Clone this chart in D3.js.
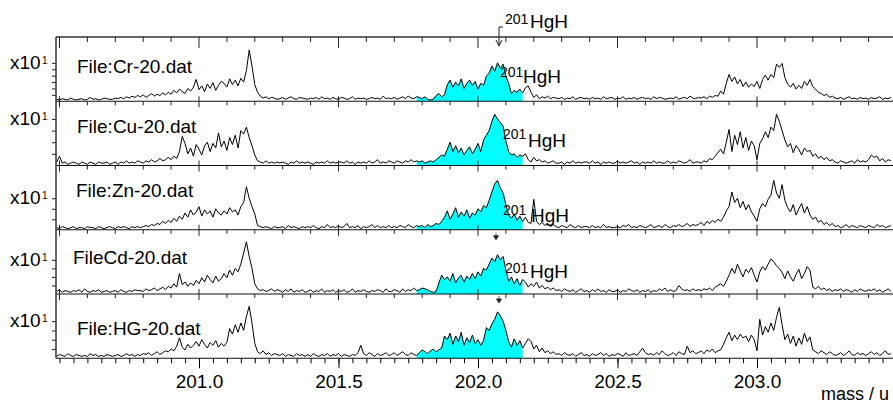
<!DOCTYPE html>
<html>
<head>
    <title>HgH mass spectra</title>
    <script src="https://d3js.org/d3.v7.min.js"></script>
    <style>
        body { margin: 0; background: #fff; }
        text { font-family: Arial, 'Liberation Sans', sans-serif; fill: #000; }
    </style>
</head>
<body>
    <svg id="chart" width="893" height="403"></svg>

    <script>
        // mass grid, 0.01 u steps
        var masses = d3.range(300).map(function(i) { return +(200.49 + i * 0.01).toFixed(2); });

        var fileLabels = ["File:Cr-20.dat", "File:Cu-20.dat", "File:Zn-20.dat", "FileCd-20.dat", "File:HG-20.dat"];
        var yMaxes = [100, 55, 61, 75, 69];
        var topTicks = [60, 40, 30, 40, 40];
        var xTickLabels = [201.0, 201.5, 202.0, 202.5, 203.0];
        var hghRange = [201.78, 202.16];

        var cr = [
            3,2,4,3,2,5,3,2,3,4, 2,3,6,3,4,2,3,5,4,3, 3,5,4,6,4,7,5,8,6,9, 7,10,6,9,12,8,11,9,13,10,
            14,11,17,13,19,15,12,20,16,22, 34,18,24,15,27,20,29,17,25,31, 28,22,35,26,33,24,36,30,48,80,
            55,26,14,8,5,7,4,6,5,3, 4,6,3,5,7,4,3,6,5,4, 3,5,4,6,3,7,4,5,3,6, 4,3,6,5,3,4,7,3,5,4,
            5,3,4,6,4,5,3,8,4,5, 4,6,3,5,7,4,8,5,4,7, 6,4,7,3,2,3,9,12,7,10, 26,33,22,30,24,35,20,28,33,25,
            31,19,28,25,39,44,55,47,60,52, 58,39,28,12,17,14,19,13,21,24, 14,6,10,4,7,5,8,4,6,5,
            4,6,3,5,4,7,3,5,6,4, 5,3,6,4,5,3,7,4,5,6, 3,5,4,7,3,5,4,6,3,5, 6,4,5,3,7,4,6,5,3,4,
            5,4,7,3,5,6,4,8,5,4, 6,5,7,4,8,6,9,8,16,11, 28,42,31,38,27,34,23,30,22,27,
            23,31,20,34,41,33,42,37,58,53, 59,37,27,22,28,19,25,20,31,25, 34,23,19,14,12,9,11,6,8,5,
            4,6,3,5,7,4,5,3,6,4, 5,3,6,4,5,7,3,5,4,6
        ];
        var cu = [
            3,8,2,3,1,2,3,2,1,3, 2,1,3,2,1,3,2,2,3,1, 2,3,1,3,2,4,2,3,2,4, 3,2,4,3,5,3,4,6,4,5,
            7,5,8,6,12,25,19,10,15,8, 18,14,9,17,20,12,19,15,28,16, 21,13,24,18,26,15,30,27,33,24,
            17,9,4,3,2,4,2,3,2,3, 2,3,2,1,3,2,4,2,3,2, 3,2,1,3,2,3,2,4,2,3, 2,3,3,2,4,2,3,1,3,2,
            3,2,4,2,3,5,2,3,2,4, 3,2,4,3,2,4,3,5,3,4, 3,4,2,3,4,3,5,7,9,8, 14,20,12,17,11,15,9,13,16,10,
            14,19,12,22,26,30,38,44,40,37, 34,21,12,9,10,7,9,8,10,5, 3,7,4,5,3,4,2,3,4,2,
            2,3,1,3,2,4,2,3,2,3, 3,2,4,2,3,1,3,2,3,2, 2,4,2,3,2,3,4,2,3,1, 3,2,3,2,4,2,3,2,2,4,
            2,3,2,4,3,2,3,5,2,3, 3,2,4,3,6,5,8,11,14,10, 20,31,12,26,18,29,15,24,13,21,
            17,5,19,23,29,24,33,30,44,38, 30,22,16,19,11,17,14,9,15,12, 13,8,10,6,8,5,7,4,5,3,
            2,4,3,2,3,4,2,5,3,4, 3,5,9,7,8,4,6,3,5,4
        ];
        var zn = [
            2,1,3,2,1,2,3,1,2,2, 1,3,2,2,1,3,2,1,2,3, 2,1,3,2,3,2,1,3,2,3, 2,3,4,3,5,4,6,5,8,6,
            9,7,11,8,13,10,16,12,19,14, 17,22,13,19,15,18,12,20,16,14, 18,15,21,17,19,14,22,26,41,30,
            22,15,4,3,2,3,2,1,3,2, 2,3,1,4,2,3,2,1,3,2, 3,2,4,2,1,3,2,5,2,3, 2,4,2,3,6,2,3,2,4,1,
            3,2,3,5,2,4,2,3,2,4, 2,3,2,4,3,2,5,3,2,4, 3,4,2,5,3,4,6,5,8,12, 18,10,15,21,12,17,13,19,11,16,
            14,20,17,23,21,28,36,44,47,40, 35,24,14,11,15,9,13,8,12,7, 6,29,8,5,7,4,6,3,5,3,
            2,4,3,2,5,3,2,4,2,3, 3,2,4,2,3,2,5,2,3,2, 2,3,2,4,3,5,2,3,2,4, 3,2,3,5,2,3,4,2,5,3,
            2,4,3,5,3,4,6,3,5,4, 5,7,4,8,6,9,7,10,8,12, 18,22,36,26,30,21,27,19,24,17,
            13,8,20,25,22,29,33,47,35,30, 43,28,21,17,24,14,20,25,16,22, 14,10,12,7,9,5,7,4,6,3,
            4,2,3,5,2,4,3,2,4,3, 2,4,3,2,5,3,4,2,3,4
        ];
        var cd = [
            3,5,2,4,3,2,4,3,5,2, 6,3,2,4,3,5,2,3,4,2, 3,4,2,5,3,2,4,3,5,4, 4,3,6,4,5,7,4,6,8,5,
            9,7,12,8,24,11,14,9,13,10, 16,12,19,14,22,17,13,21,15,18, 24,19,28,22,30,26,35,48,61,44,
            30,12,6,4,5,3,4,6,3,5, 4,2,5,3,6,2,4,3,5,2, 3,5,2,4,3,6,2,4,3,5, 2,4,3,5,2,3,6,2,4,3,
            5,3,2,4,3,5,4,2,6,3, 3,5,4,2,6,3,5,4,7,4, 5,7,6,5,3,2,3,13,22,17, 20,15,24,13,19,22,14,21,17,24,
            18,26,21,30,28,35,42,38,46,40, 44,28,15,20,12,18,10,17,14,8, 12,9,14,7,10,6,8,5,7,4,
            5,3,6,4,3,5,2,4,6,3, 4,2,5,3,6,3,4,2,5,3, 3,5,2,4,3,6,4,3,5,2, 4,3,5,2,4,3,6,4,7,3,
            5,3,4,10,6,4,5,3,6,4, 5,4,6,5,7,4,8,10,12,9, 15,22,30,24,35,27,20,29,25,31,
            22,14,26,32,28,35,41,38,33,30, 25,18,27,20,15,23,29,18,24,32, 28,8,6,9,5,7,4,6,3,5,
            4,6,3,5,4,2,5,3,6,4, 3,5,4,6,3,5,2,4,6,3
        ];
        var hg = [
            2,4,3,2,5,3,2,4,3,2, 3,2,5,3,4,2,3,2,4,3, 2,3,4,2,3,5,3,4,2,4, 3,5,4,6,3,5,7,4,6,8,
            7,10,8,13,22,12,9,15,11,14, 18,13,20,15,11,17,14,19,12,16, 13,17,32,26,36,28,38,30,45,56,
            38,16,7,5,8,4,6,3,5,4, 3,5,2,4,3,2,5,3,4,2, 4,2,5,3,2,4,3,5,2,4, 3,5,2,4,3,2,4,3,6,14,
            5,3,6,4,2,5,3,4,6,3, 4,6,3,5,7,4,3,6,4,3, 6,9,7,5,8,10,7,9,11,24, 20,27,15,24,18,28,14,22,17,25,
            16,20,14,19,33,30,37,42,50,46, 40,30,18,12,21,14,19,11,16,21, 18,10,14,7,11,6,8,5,7,4,
            5,3,6,4,3,5,2,4,6,3, 4,2,5,3,4,6,3,5,2,4, 3,5,4,2,6,3,4,5,3,7, 11,6,4,5,3,6,4,8,5,3,
            4,6,3,7,5,4,13,6,8,5, 6,8,5,9,7,10,6,8,9,15, 22,28,19,25,20,26,22,24,18,25,
            20,8,42,25,34,28,38,30,44,55, 36,20,26,16,24,13,22,15,27,18, 23,9,7,5,8,6,4,7,5,3,
            4,6,3,5,8,4,3,6,4,5, 3,5,7,4,6,3,5,8,4,5
        ];

        var spectra = [cr, cu, zn, cd, hg];

        var svg = d3.select("#chart");
        var plotLeft = 56, plotRight = 893, plotTop = 37, panelH = 64.25;

        var x = d3.scaleLinear().domain([200.4875, 203.4875]).range([plotLeft, plotRight]);

        function baseOf(k) { return plotTop + panelH * (k + 1); }

        var tenths = d3.range(200.5, 203.45, 0.1).map(function(v) { return +v.toFixed(2); });
        var isMajor = function(v) { return Math.abs(v * 2 - Math.round(v * 2)) < 1e-6; };

        spectra.forEach(function(vals, k) {
            var base = baseOf(k);
            var y = d3.scaleLinear().domain([0, yMaxes[k]]).range([base, base - 64]);
            var pts = vals.map(function(v, i) { return { m: masses[i], v: v }; });
            var g = svg.append("g");

            // cyan HgH region
            var shaded = pts.filter(function(d) { return d.m >= hghRange[0] - 1e-6 && d.m <= hghRange[1] + 1e-6; });
            g.append("path").datum(shaded)
                .attr("fill", "#00ffff")
                .attr("d", d3.area().x(function(d) { return x(d.m); }).y0(base).y1(function(d) { return y(d.v); }));

            g.append("path").datum(pts)
                .attr("fill", "none").attr("stroke", "#000").attr("stroke-width", 1)
                .attr("stroke-linejoin", "round")
                .attr("d", d3.line().x(function(d) { return x(d.m); }).y(function(d) { return y(d.v); }));

            // baseline
            g.append("line").attr("x1", plotLeft).attr("x2", plotRight).attr("y1", base).attr("y2", base)
                .attr("stroke", "#111").attr("stroke-width", 1.1);

            if (k < 4) {
                g.append("g").selectAll("line").data(tenths).enter().append("line")
                    .attr("x1", function(d) { return x(d); }).attr("x2", function(d) { return x(d); })
                    .attr("y1", function(d) { return isMajor(d) ? base - 5 : base; })
                    .attr("y2", function(d) { return base + (isMajor(d) ? 6 : 4); })
                    .attr("stroke", "#222");
            }

            // y ticks
            var yAxis = d3.axisLeft(y).tickValues(d3.range(10, topTicks[k] + 1, 10)).tickSize(4).tickFormat("");
            var ya = g.append("g").attr("transform", "translate(" + plotLeft + ",0)").call(yAxis);
            ya.select(".domain").remove();
            ya.selectAll("line").attr("stroke", "#222");

            var ty = y(topTicks[k]);
            g.append("text").attr("x", 10).attr("y", ty + 6).attr("font-size", 19).text("x10");
            g.append("text").attr("x", 42).attr("y", ty + 1).attr("font-size", 10).text("1");
        });

        // top frame line and left axis
        svg.append("line").attr("x1", plotLeft).attr("x2", plotRight).attr("y1", plotTop).attr("y2", plotTop)
            .attr("stroke", "#333").attr("stroke-width", 1.5);
        svg.append("line").attr("x1", plotLeft).attr("x2", plotLeft).attr("y1", plotTop).attr("y2", baseOf(4))
            .attr("stroke", "#333").attr("stroke-width", 1.5);

        // ticks hanging from the top frame
        svg.append("g").selectAll("line").data(tenths).enter().append("line")
            .attr("x1", function(d) { return x(d); }).attr("x2", function(d) { return x(d); })
            .attr("y1", plotTop).attr("y2", function(d) { return plotTop + (isMajor(d) ? 11 : 5); })
            .attr("stroke", "#222");

        // file labels
        var fileX = [77, 77, 76, 73, 77];
        var fileY = [73, 133, 197, 264, 335];
        svg.append("g").selectAll("text").data(fileLabels).enter().append("text")
            .attr("x", function(d, i) { return fileX[i]; })
            .attr("y", function(d, i) { return fileY[i]; })
            .attr("font-size", 19)
            .text(function(d) { return d; });

        // bottom axis
        var bottom = baseOf(4);
        var xAxisMinor = d3.axisBottom(x).tickValues(d3.range(200.5, 203.48, 0.05)).tickSize(5).tickFormat("");
        var xm = svg.append("g").attr("transform", "translate(0," + bottom + ")").call(xAxisMinor);
        xm.select(".domain").remove();
        var xAxis = d3.axisBottom(x).tickValues(xTickLabels).tickSize(10).tickPadding(6).tickFormat(d3.format(".1f"));
        var xa = svg.append("g").attr("transform", "translate(0," + bottom + ")").call(xAxis);
        xa.select(".domain").remove();
        xa.selectAll("text").attr("font-size", 19).attr("font-family", "Arial, 'Liberation Sans', sans-serif").attr("fill", "#000");
        svg.append("text").attr("x", 821).attr("y", 400).attr("font-size", 18).text("mass / u");

        // 201HgH annotations
        var hghLabels = [
            { sx: 505, sy: 24, hx: 530, hy: 28 },
            { sx: 500, sy: 77, hx: 523, hy: 83 },
            { sx: 503, sy: 139, hx: 528, hy: 147 },
            { sx: 503, sy: 215, hx: 531, hy: 222 },
            { sx: 505, sy: 273, hx: 530, hy: 278 }
        ];
        hghLabels.forEach(function(d) {
            svg.append("text").attr("x", d.sx).attr("y", d.sy).attr("font-size", 14).attr("fill", "#333").text("201");
            svg.append("text").attr("x", d.hx).attr("y", d.hy).attr("font-size", 19).text("HgH");
        });

        // arrow from the top label
        svg.append("path").attr("d", "M503,27 H499 V46 M496,40 L499,46 L502,40")
            .attr("fill", "none").attr("stroke", "#222");
        // small markers under panels
        [[496, baseOf(2) + 3], [499, baseOf(3) + 2]].forEach(function(p) {
            svg.append("path").attr("d", "M" + p[0] + "," + p[1] + " v3 M" + (p[0] - 2.5) + "," + (p[1] + 3) + " h5 l-2.5,4 z")
                .attr("fill", "#222").attr("stroke", "#222").attr("stroke-width", 0.8);
        });
    </script>
</body>
</html>
